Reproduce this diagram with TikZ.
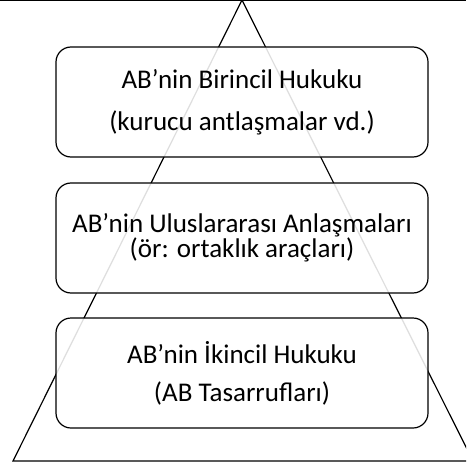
\documentclass[tikz,border=0pt]{standalone}
\usepackage{fontspec}
\setmainfont{Carlito}
\usepackage{tikz}
\tikzset{tier/.style = {draw, line width = 1.2pt, rounded corners = 15pt, fill = white,
                        fill opacity = 0.87, text opacity = 1, align = center,
                        minimum width = 372pt, minimum height = 110pt, inner sep = 0,
                        font = \fontsize{27}{27}\selectfont}}
\tikzset{edge/.style = {line width = 1.2pt}}

\begin{document}
\begin{tikzpicture}[x = 1pt, y = -1pt]
      \useasboundingbox (0, 0) rectangle (466, 468);
      \clip (0, 0) rectangle (466, 468);
      \coordinate (apex) at (242, 0);
      \coordinate (left) at (13, 461);
      \coordinate (right) at (473, 461);
      \draw [edge] (apex) -- (left) -- (right) -- cycle;
      \draw [edge] (0, 0.6) -- (466, 0.6);
      \node [tier] (primary) at (242, 102) {AB’nin Birincil Hukuku\\[15pt](kurucu antlaşmalar vd.)};
      \node [tier] (intl) at (242, 238) {AB’nin Uluslararası Anlaşmaları\\[-2pt](ör: ortaklık araçları)};
      \node [tier] (secondary) at (242, 373) {AB’nin İkincil Hukuku\\[11pt](AB Tasarrufları)};
    \end{tikzpicture}
\end{document}
